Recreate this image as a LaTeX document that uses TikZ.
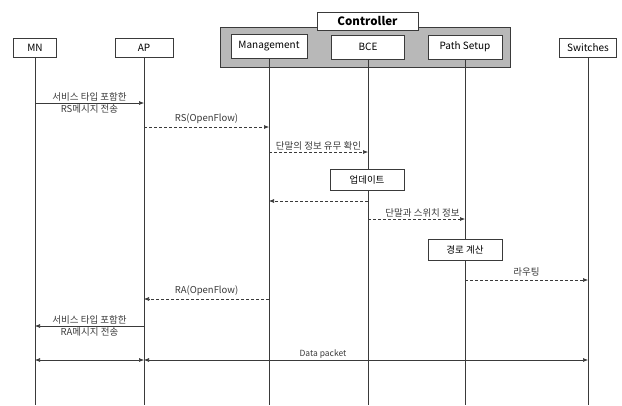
\documentclass[tikz,border=0pt]{standalone}
\usepackage{fontspec}
\setmainfont{Noto Sans CJK KR}
\usepackage{tikz}
\usetikzlibrary{arrows.meta,positioning,calc}
\definecolor{ink}{HTML}{3A3A3A}
\definecolor{shadegray}{HTML}{B8B8B8}
\tikzset{
  actor/.style={rectangle, draw=ink, fill=white, align=center, minimum height=19pt, inner sep=1pt, font=\fontsize{10}{11}\selectfont},
  ctrlbox/.style={rectangle, draw=ink, thick, fill=white, align=center, minimum height=24pt, inner sep=1pt, font=\fontsize{10}{11}\selectfont},
  taskbox/.style={rectangle, draw=ink, fill=white, align=center, minimum height=21pt, inner sep=1pt, font=\fontsize{9.5}{11}\selectfont},
  lifeline/.style={draw=ink, line width=0.6pt},
  msg/.style={-{Latex[length=5pt,width=4pt]}, draw=ink, line width=0.6pt},
  dmsg/.style={-{Latex[length=5pt,width=4pt]}, draw=ink, line width=0.6pt, dash pattern=on 3pt off 2pt},
  both/.style={{Latex[length=5pt,width=4pt]}-{Latex[length=5pt,width=4pt]}, draw=ink, line width=0.6pt},
  lbl/.style={font=\fontsize{9.5}{10}\selectfont, inner sep=1pt, text=ink}
}

\begin{document}
\begin{tikzpicture}[x=1pt, y=-1pt]
  \useasboundingbox (0,0) rectangle (622,405);
  % controller frame
  \node[rectangle, draw=ink, fill=shadegray, minimum width=290pt, minimum height=40pt] (ctrl) at (365,47) {};
  \node[rectangle, draw=ink, fill=white, minimum width=101pt, minimum height=18pt, font=\bfseries\fontsize{11.5}{12}\selectfont] (ctrlname) at (367.5,21) {Controller};
  % participants
  \node[actor, minimum width=43pt] (mn) at (35,47.5) {MN};
  \node[actor, minimum width=58pt] (ap) at (144,47.5) {AP};
  \node[ctrlbox, minimum width=76pt] (mgmt) at (269,46) {Management};
  \node[ctrlbox, minimum width=73pt] (bce) at (368,47) {BCE};
  \node[ctrlbox, minimum width=74pt] (path) at (465,47) {Path Setup};
  \node[actor, minimum width=57pt] (sw) at (588,47.5) {Switches};
  % lifelines
  \draw[lifeline] (mn) -- (mn |- 0,405);
  \draw[lifeline] (ap) -- (ap |- 0,405);
  \draw[lifeline] (mgmt) -- (mgmt |- 0,405);
  \draw[lifeline] (bce) -- (bce |- 0,405);
  \draw[lifeline] (path) -- (path |- 0,405);
  \draw[lifeline] (sw) -- (sw |- 0,405);
  % local steps
  \node[taskbox, minimum width=74pt] (update) at (367,179.5) {업데이트};
  \node[taskbox, minimum width=74pt] (route) at (465,250) {경로 계산};
  % messages
  \draw[msg] (mn |- 0,103) -- node[lbl, above]{서비스 타입 포함한} node[lbl, below]{RS메시지 전송} (ap |- 0,103);
  \draw[dmsg] (ap |- 0,127) -- node[lbl, above=2pt]{RS(OpenFlow)} (mgmt |- 0,127);
  \draw[dmsg] (mgmt |- 0,152) -- node[lbl, above]{단말의 정보 유무 확인} (bce |- 0,152);
  \draw[dmsg] (bce |- 0,201) -- (mgmt |- 0,201);
  \draw[dmsg] (bce |- 0,219) -- node[lbl, above, xshift=6pt]{단말과 스위치 정보} (path |- 0,219);
  \draw[dmsg] (path |- 0,280) -- node[lbl, above=2pt]{라우팅} (sw |- 0,280);
  \draw[dmsg] (mgmt |- 0,299) -- node[lbl, above=2pt]{RA(OpenFlow)} (ap |- 0,299);
  \draw[msg] (ap |- 0,326) -- node[lbl, above]{서비스 타입 포함한} node[lbl, below]{RA메시지 전송} (mn |- 0,326);
  \draw[both] (mn |- 0,360) -- (ap |- 0,360);
  \draw[both] (ap |- 0,360) -- node[lbl, above, xshift=-43pt, font=\fontsize{8.5}{9}\selectfont]{Data packet} (sw |- 0,360);
\end{tikzpicture}
\end{document}
